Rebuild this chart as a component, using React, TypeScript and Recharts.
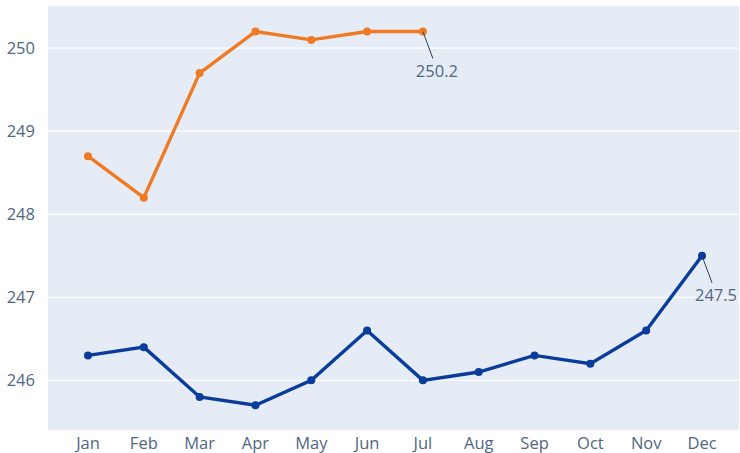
import { LineChart, Line, XAxis, YAxis, CartesianGrid, LabelList } from "recharts";

const months = ["Jan", "Feb", "Mar", "Apr", "May", "Jun", "Jul", "Aug", "Sep", "Oct", "Nov", "Dec"];
const upperSeries = [248.7, 248.2, 249.7, 250.2, 250.1, 250.2, 250.2];
const lowerSeries = [246.3, 246.4, 245.8, 245.7, 246.0, 246.6, 246.0, 246.1, 246.3, 246.2, 246.6, 247.5];
const yTicks = [246, 247, 248, 249, 250];

const ORANGE = "#F07A24";
const BLUE = "#0A3C9C";
const TEXT = "#506784";

const data = months.map((m, i) => ({
  month: m,
  upper: i < upperSeries.length ? upperSeries[i] : null,
  lower: lowerSeries[i],
}));

// plotly-style annotation: short arrow line down-right from the last point, value text below it
function lastPointLabel(lastIndex: number) {
  return (props: any) => {
    const { x, y, index, value } = props;
    if (index !== lastIndex) return null;
    return (
      <g>
        <line x1={x} y1={y} x2={x + 10} y2={y + 27} stroke="#2A3F5F" strokeWidth={1} />
        <text x={x + 14} y={y + 45} textAnchor="middle" fill={TEXT} fontSize={16.5} fontFamily="Open Sans">
          {Number(value).toFixed(1)}
        </text>
      </g>
    );
  };
}

export default function App() {
  return (
    <div>
      <style>{`body{margin:0}`}</style>
      <LineChart width={740} height={453} data={data} margin={{ top: 5, right: 1, left: 0, bottom: 0 }}>
        <CartesianGrid vertical={false} fill="#E5ECF6" stroke="#FFFFFF" strokeWidth={1.3} />
        <XAxis
          dataKey="month"
          padding={{ left: 40, right: 37 }}
          axisLine={false}
          tickLine={false}
          tickMargin={0}
          height={22}
          tick={{ fill: TEXT, fontSize: 16.5, fontFamily: "Open Sans" }}
          interval={0}
        />
        <YAxis
          domain={[245.39, 250.52]}
          ticks={yTicks}
          axisLine={false}
          tickLine={false}
          tickMargin={7}
          width={48}
          tick={{ fill: TEXT, fontSize: 16.5, fontFamily: "Open Sans" }}
          allowDataOverflow
        />
        <Line
          dataKey="upper"
          stroke={ORANGE}
          strokeWidth={3.4}
          dot={{ r: 4, fill: ORANGE, stroke: ORANGE, strokeWidth: 0 }}
          activeDot={false}
          isAnimationActive={false}
        >
          <LabelList dataKey="upper" content={lastPointLabel(upperSeries.length - 1)} />
        </Line>
        <Line
          dataKey="lower"
          stroke={BLUE}
          strokeWidth={3.4}
          dot={{ r: 4, fill: BLUE, stroke: BLUE, strokeWidth: 0 }}
          activeDot={false}
          isAnimationActive={false}
        >
          <LabelList dataKey="lower" content={lastPointLabel(lowerSeries.length - 1)} />
        </Line>
      </LineChart>
    </div>
  );
}
